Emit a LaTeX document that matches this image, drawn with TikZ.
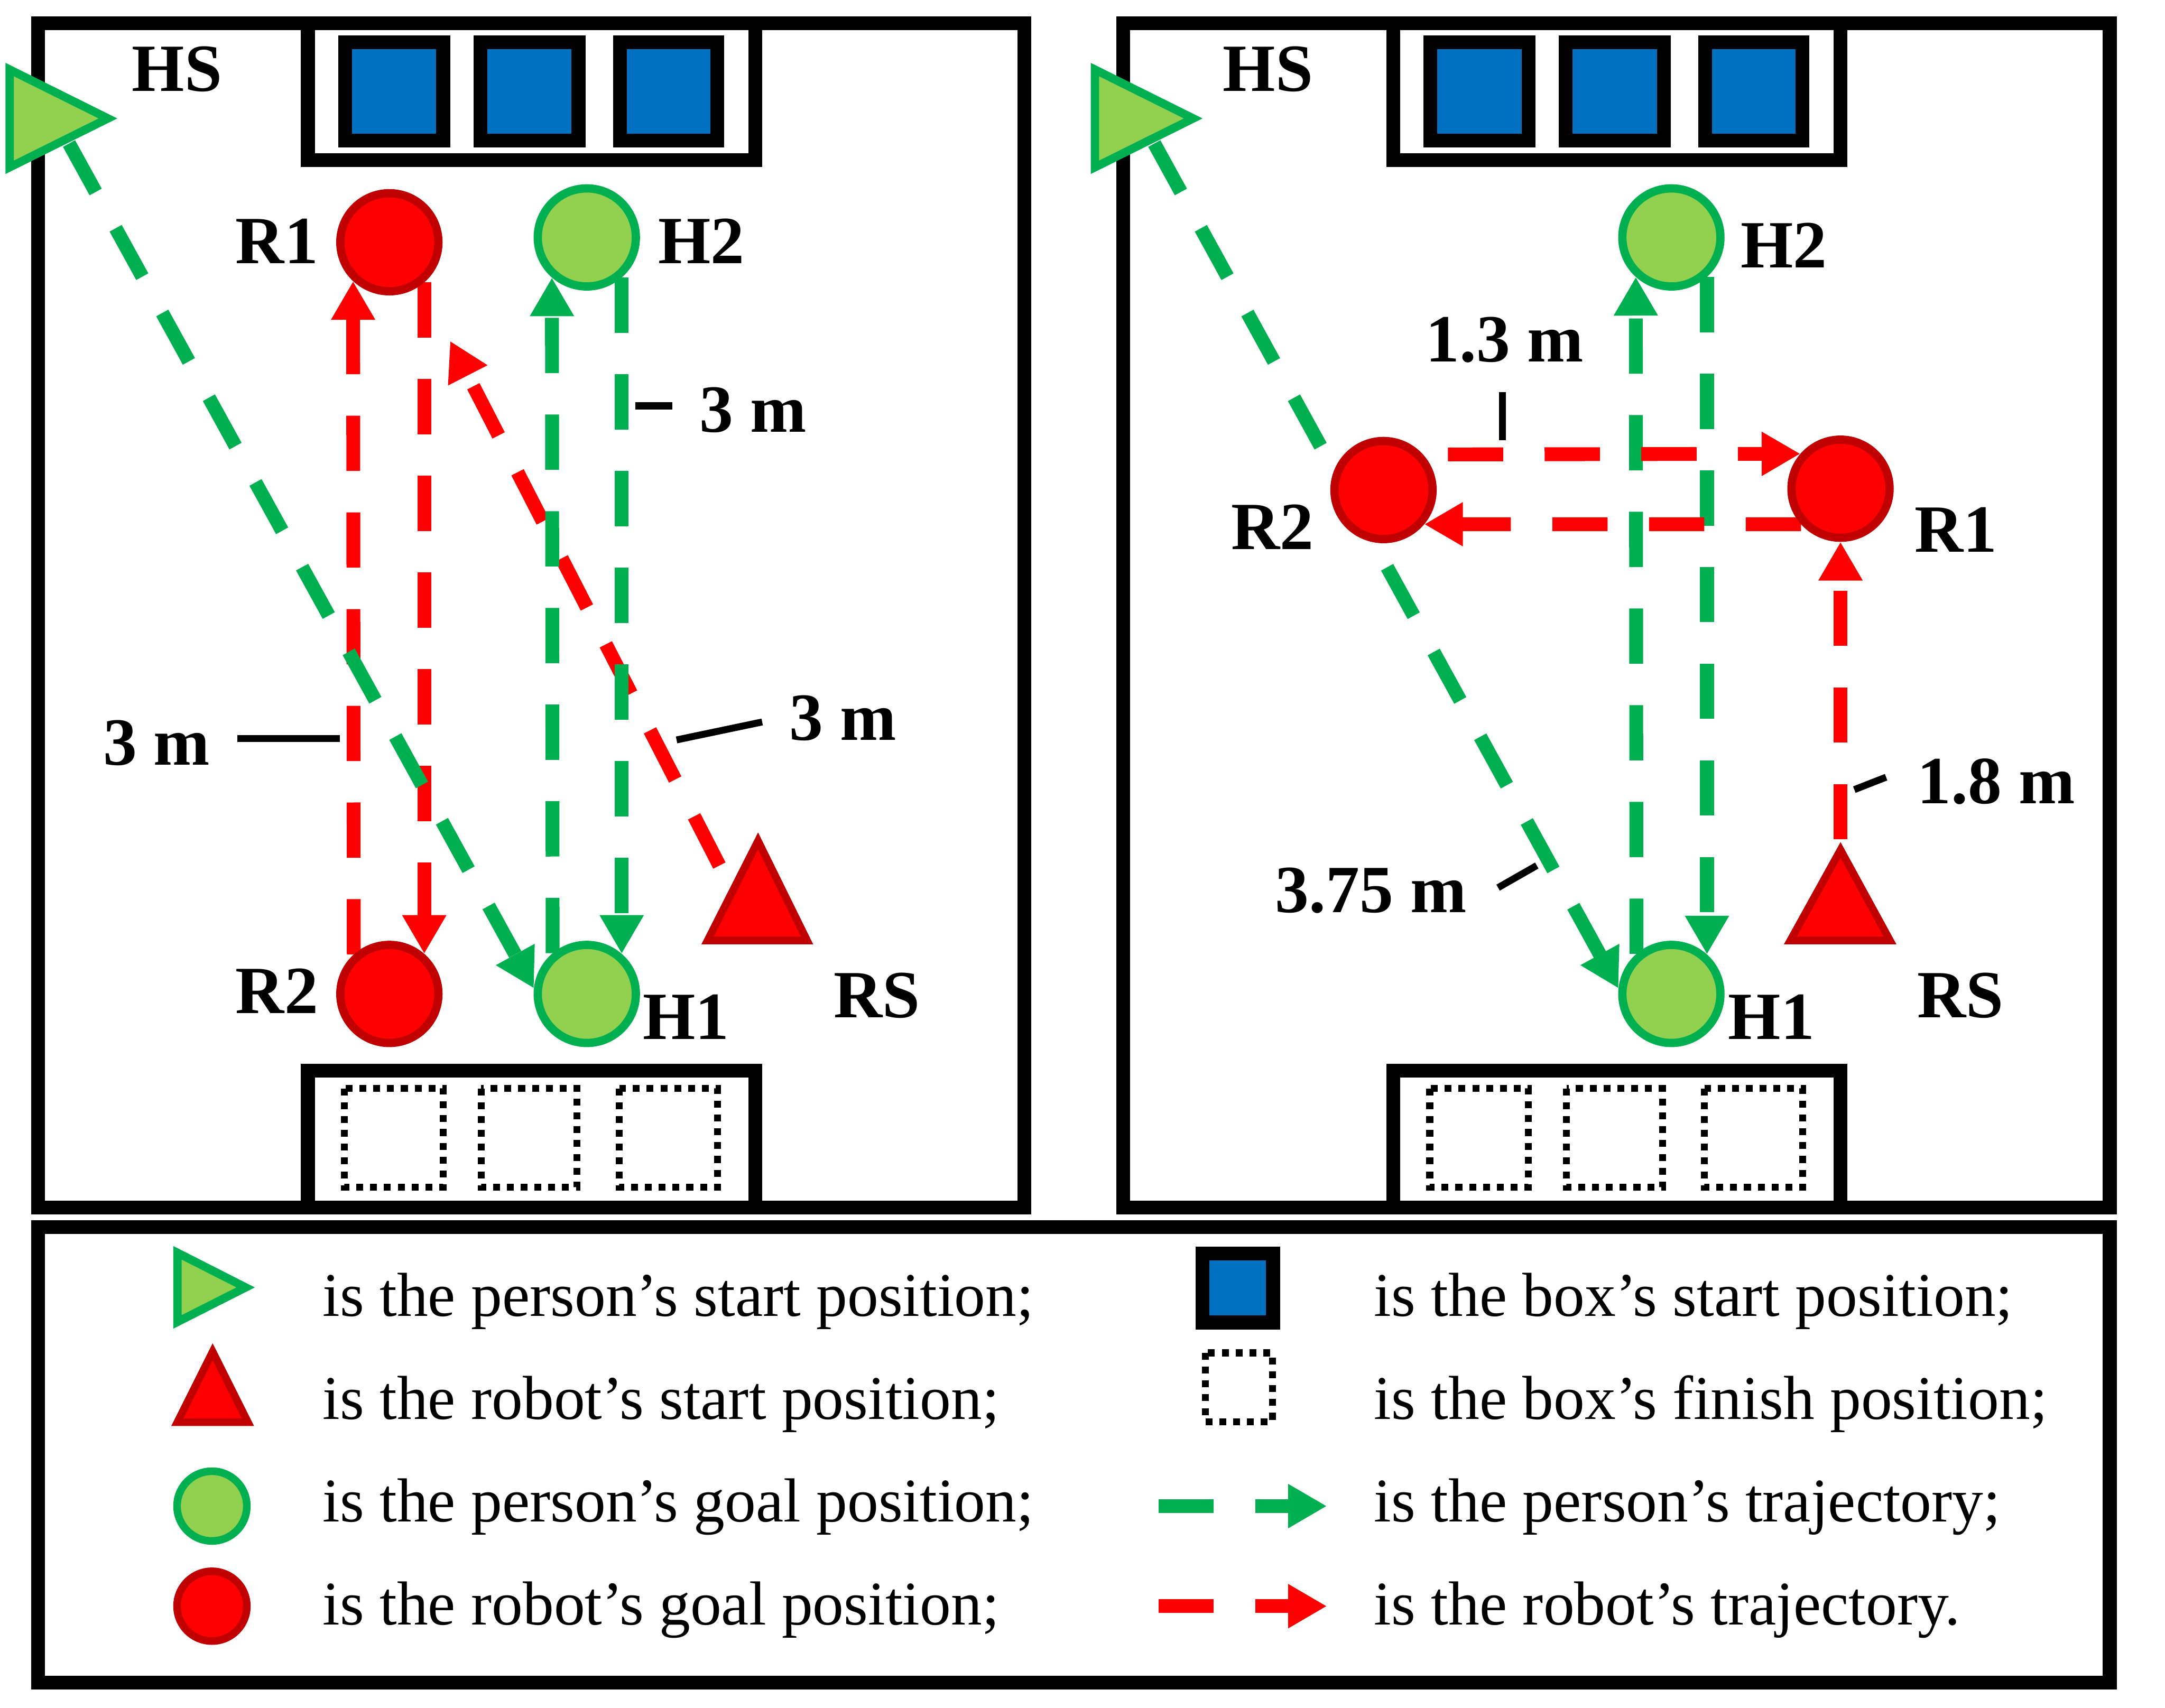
\documentclass[tikz,border=0pt]{standalone}
\usepackage{fontspec}
\setmainfont{Liberation Serif}
\usetikzlibrary{arrows.meta}
\pgfdeclarelayer{bg}
\pgfsetlayers{bg,main}
\definecolor{lgreen}{HTML}{92D050}
\definecolor{pgreen}{HTML}{00B050}
\definecolor{rred}{HTML}{FF0000}
\definecolor{dred}{HTML}{C00000}
\definecolor{boxblue}{HTML}{0070C0}
\tikzset{
  frame/.style={draw=black, line width=0.1cm, line join=miter},
  bluebox/.style={draw=black, fill=boxblue, line width=0.1cm},
  dotbox/.style={draw=black, line width=0.05cm, dash pattern=on 0.05cm off 0.05cm},
  pgoal/.style={circle, draw=pgreen, fill=lgreen, line width=0.06cm, minimum size=0.71cm, inner sep=0pt},
  rgoal/.style={circle, draw=dred, fill=rred, line width=0.06cm, minimum size=0.71cm, inner sep=0pt},
  pgoalsm/.style={circle, draw=pgreen, fill=lgreen, line width=0.055cm, minimum size=0.505cm, inner sep=0pt},
  rgoalsm/.style={circle, draw=dred, fill=rred, line width=0.055cm, minimum size=0.505cm, inner sep=0pt},
  pstart/.style={draw=pgreen, fill=lgreen, line width=0.06cm, line join=miter},
  rstart/.style={draw=dred, fill=rred, line width=0.055cm, line join=miter},
  traj/.style={line width=0.1cm, dash pattern=on 0.4cm off 0.3cm, -{Triangle[length=0.28cm,width=0.30cm]}},
  ptraj/.style={traj, draw=pgreen, color=pgreen},
  rtraj/.style={traj, draw=rred, color=rred},
  lbl/.style={font=\fontsize{13.9}{16}\selectfont\bfseries, inner sep=0pt, anchor=base west},
  legtxt/.style={font=\fontsize{12.8}{15}\selectfont, inner sep=0pt, anchor=base west},
  tick/.style={draw=black, line width=0.05cm},
}
\begin{document}
\begin{tikzpicture}[x=0.01cm,y=-0.01cm]
\useasboundingbox (0,0) rectangle (1568,1237);

% ---------- goal positions (nodes) ----------
\node[rgoal] (R1L) at (282,175.5) {};
\node[pgoal] (H2L) at (425,172) {};
\node[rgoal] (R2L) at (282,720) {};
\node[pgoal] (H1L) at (425,720) {};

\node[pgoal] (H2R) at (1210.5,172) {};
\node[pgoal] (H1R) at (1210.5,720) {};
\node[rgoal] (R2R) at (1002,355) {};
\node[rgoal] (R1R) at (1333,354) {};

% ---------- start positions ----------
\draw[pstart] (7,50.4) -- (78.2,85.8) -- (7,121.2) -- cycle;
\draw[pstart] (793,50.4) -- (864.2,85.8) -- (793,121.2) -- cycle;
\draw[rstart] (549,609.2) -- (584.5,681.25) -- (512.5,681.25) -- cycle;
\draw[rstart] (1333,615.7) -- (1368.8,681.25) -- (1296.7,681.25) -- cycle;

% free ends of trajectories
\coordinate (hsL) at (50,104);
\coordinate (hsR) at (836,104);
\coordinate (rsL) at (521,627);
\coordinate (rtipL) at (326,247);
\coordinate (rsR) at (1333,608);

\begin{pgfonlayer}{bg}
  \fill[white] (0,0) rectangle (1568,1237);
  % frames
  \draw[frame] (27.5,17) rectangle (742,874.6);
  \draw[frame] (813.6,17) rectangle (1528,874.6);
  \draw[frame] (27.5,889) rectangle (1528,1219);
  % shelves
  \draw[frame, fill=white] (223,17) rectangle (547,116);
  \draw[frame, fill=white] (223,775.5) rectangle (547,874.6);
  \draw[frame, fill=white] (1009,17) rectangle (1333,116);
  \draw[frame, fill=white] (1009,775.5) rectangle (1333,874.6);
  % boxes
  \draw[bluebox] (250,30.5) rectangle (321,101.7);
  \draw[bluebox] (348,30.5) rectangle (419,101.7);
  \draw[bluebox] (449,30.5) rectangle (519.5,101.7);
  \draw[bluebox] (1036,30.5) rectangle (1107,101.7);
  \draw[bluebox] (1134,30.5) rectangle (1205,101.7);
  \draw[bluebox] (1235,30.5) rectangle (1305.5,101.7);
  \draw[dotbox] (249.5,788.5) rectangle (321,860);
  \draw[dotbox] (348.5,788.5) rectangle (418,860);
  \draw[dotbox] (448.5,788.5) rectangle (519.5,860);
  \draw[dotbox] (1035.5,788.5) rectangle (1107,860);
  \draw[dotbox] (1134.5,788.5) rectangle (1204,860);
  \draw[dotbox] (1234.5,788.5) rectangle (1305.5,860);
  % trajectories, left
  \draw[rtraj] (R2L.132.5) -- (R1L.227.5);
  \draw[rtraj] (R1L.-49.5) -- (R2L.49.5);
  \draw[rtraj] (rsL) -- (rtipL);
  \draw[ptraj] (hsL) -- (H1L.174);
  \draw[ptraj] (H1L.130.5) -- (H2L.229.5);
  \draw[ptraj] (H2L.-49.5) -- (H1L.49.5);
  % trajectories, right
  \draw[ptraj] (hsR) -- (H1R.174);
  \draw[ptraj] (H1R.131.5) -- (H2R.228.5);
  \draw[ptraj] (H2R.-48.5) -- (H1R.48.5);
  \draw[rtraj, shorten <=0.18cm] (R2R.42.5) -- (R1R.139.5);
  \draw[rtraj] (R1R.222.5) -- (R2R.-40.5);
  \draw[rtraj] (rsR) -- (R1R.south);
  % distance ticks
  \draw[tick] (460,294) -- (487,294);
  \draw[tick] (172,535) -- (246,535);
  \draw[tick] (490,536) -- (552,523);
  \draw[tick] (1088,284) -- (1088,319);
  \draw[tick] (1343,572) -- (1366,563);
  \draw[tick] (1085,643) -- (1113,627);
\end{pgfonlayer}

% ---------- labels ----------
\node[lbl] (tHSL) at (95,66) {HS};
\node[lbl] (tR1L) at (170,191) {R1};
\node[lbl] (tH2L) at (476,191) {H2};
\node[lbl] (tR2L) at (170,734) {R2};
\node[lbl] (tH1L) at (465,753) {H1};
\node[lbl] (tRSL) at (603,737) {RS};
\node[lbl] (d1) at (506,313) {3 m};
\node[lbl] (d2) at (74,554) {3 m};
\node[lbl] (d3) at (571,536) {3 m};

\node[lbl] (tHSR) at (885,66) {HS};
\node[lbl] (tH2R) at (1260,194) {H2};
\node[lbl] (tR2R) at (891,398) {R2};
\node[lbl] (tR1R) at (1386,400) {R1};
\node[lbl] (tH1R) at (1251,753) {H1};
\node[lbl] (tRSR) at (1388,737) {RS};
\node[lbl] (d4) at (1032,262) {1.3 m};
\node[lbl] (d5) at (1388,582) {1.8 m};
\node[lbl] (d6) at (923,661) {3.75 m};

% ---------- legend ----------
\draw[pstart] (128.5,907.5) -- (177.9,932.6) -- (128.5,957.6) -- cycle;
\draw[rstart] (154,979.2) -- (179.55,1030.25) -- (128.45,1030.25) -- cycle;
\node[pgoalsm] (lgP) at (153.5,1091) {};
\node[rgoalsm] (lgR) at (153.5,1163.5) {};
\draw[bluebox] (871,908) rectangle (922,958);
\draw[dotbox] (873,980) rectangle (921.5,1030);
\coordinate (la1) at (839,1091);
\coordinate (la2) at (961,1091);
\coordinate (lb1) at (839,1163.5);
\coordinate (lb2) at (961,1163.5);
\draw[ptraj] (la1) -- (la2);
\draw[rtraj] (lb1) -- (lb2);

\node[legtxt] (L1) at (233,953.5) {is the person’s start position;};
\node[legtxt] (L2) at (233,1028) {is the robot’s start position;};
\node[legtxt] (L3) at (233,1102.5) {is the person’s goal position;};
\node[legtxt] (L4) at (233,1177) {is the robot’s goal position;};
\node[legtxt] (L5) at (994.6,953.5) {is the box’s start position;};
\node[legtxt] (L6) at (994.6,1028) {is the box’s finish position;};
\node[legtxt] (L7) at (994.6,1102.5) {is the person’s trajectory;};
\node[legtxt] (L8) at (994.6,1177) {is the robot’s trajectory.};
\end{tikzpicture}
\end{document}
